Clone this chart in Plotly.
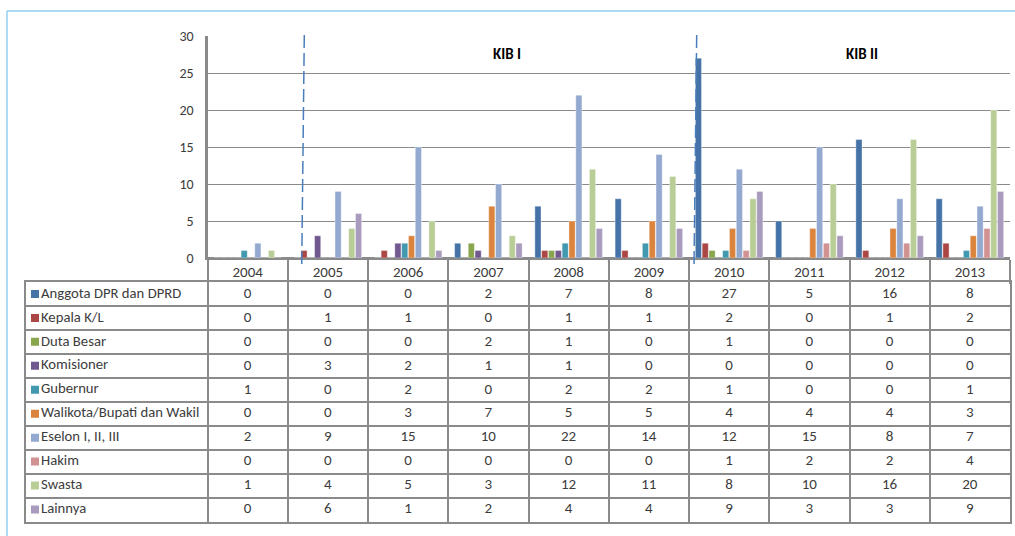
import plotly.graph_objects as go

# Jumlah perkara per jabatan, 2004-2013
years = ["2004", "2005", "2006", "2007", "2008", "2009", "2010", "2011", "2012", "2013"]

anggota_dpr = [0, 0, 0, 2, 7, 8, 27, 5, 16, 8]
kepala_kl = [0, 1, 1, 0, 1, 1, 2, 0, 1, 2]
duta_besar = [0, 0, 0, 2, 1, 0, 1, 0, 0, 0]
komisioner = [0, 3, 2, 1, 1, 0, 0, 0, 0, 0]
gubernur = [1, 0, 2, 0, 2, 2, 1, 0, 0, 1]
walikota = [0, 0, 3, 7, 5, 5, 4, 4, 4, 3]
eselon = [2, 9, 15, 10, 22, 14, 12, 15, 8, 7]
hakim = [0, 0, 0, 0, 0, 0, 1, 2, 2, 4]
swasta = [1, 4, 5, 3, 12, 11, 8, 10, 16, 20]
lainnya = [0, 6, 1, 2, 4, 4, 9, 3, 3, 9]

series_names = ["Anggota DPR dan DPRD", "Kepala K/L", "Duta Besar", "Komisioner", "Gubernur",
                "Walikota/Bupati dan Wakil", "Eselon I, II, III", "Hakim", "Swasta", "Lainnya"]
series_values = [anggota_dpr, kepala_kl, duta_besar, komisioner, gubernur,
                 walikota, eselon, hakim, swasta, lainnya]
colors = ["#4572A7", "#AA4643", "#89A54E", "#71588F", "#4198AF",
          "#DB843D", "#93A9CF", "#D19392", "#B9CD96", "#A99BBD"]

W, H = 1015, 536
FONT = "Calibri, Carlito, Lato, sans-serif"
TXT = "#3c3c3c"
GRID = "#8a8a8a"

# plot area / table geometry in pixels
px_left, px_right = 207.5, 1010
py_top, py_zero = 36, 258
tab_left, tab_top, tab_bottom = 26, 282, 521.5
cat_w = (px_right - px_left) / len(years)
n_rows = len(series_names)

fig = go.Figure()

# grouped bars
for name, vals, col in zip(series_names, series_values, colors):
    fig.add_trace(go.Bar(
        x=years, y=vals, name=name,
        marker=dict(color=col, line=dict(width=0.8, color="rgba(255,255,255,0.45)")),
        showlegend=False, hoverinfo="x+y+name", xaxis="x", yaxis="y",
    ))

# data table drawn on its own axes: year i spans [i, i+1], row r spans [r, r+1]
label_x0 = -(px_left - tab_left) / cat_w
cell_x, cell_y, cell_t = [], [], []
for r, vals in enumerate(series_values):
    for i, v in enumerate(vals):
        cell_x.append(i + 0.5)
        cell_y.append(r + 0.5)
        cell_t.append(str(v))
fig.add_trace(go.Scatter(
    x=cell_x, y=cell_y, text=cell_t, mode="text", textposition="middle center",
    textfont=dict(family=FONT, size=15, color=TXT), showlegend=False, hoverinfo="skip",
    xaxis="x2", yaxis="y2",
))
row_y = [r + 0.5 for r in range(n_rows)]
fig.add_trace(go.Scatter(
    x=[label_x0 + 9 / cat_w] * n_rows, y=row_y, mode="markers",
    marker=dict(symbol="square", size=8, color=colors, line=dict(width=0)),
    showlegend=False, hoverinfo="skip", xaxis="x2", yaxis="y2",
))
fig.add_trace(go.Scatter(
    x=[label_x0 + 15 / cat_w] * n_rows, y=row_y, text=series_names, mode="text",
    textposition="middle right", textfont=dict(family=FONT, size=14.7, color=TXT),
    showlegend=False, hoverinfo="skip", xaxis="x2", yaxis="y2",
))

# era separators (KIB I / KIB II)
def xcat(px):
    return (px - px_left) / cat_w - 0.5

for xt, xb in [(304.3, 301.7), (696.7, 694.0)]:
    fig.add_shape(type="line", xref="x", yref="paper",
                  x0=xcat(xt), x1=xcat(xb), y0=1 - 35 / H, y1=1 - 268 / H,
                  line=dict(color="#4a7ebb", width=1.5, dash="13px,5px"))

for text, px in [("KIB I", 507), ("KIB II", 862)]:
    fig.add_annotation(x=xcat(px), y=(py_zero - 54) / (py_zero - py_top) * 30, xref="x", yref="y",
                       text=f"<b>{text}</b>", showarrow=False, yanchor="middle",
                       font=dict(family=FONT, size=15, color="#000000"))

# outer frame
fig.add_shape(type="line", xref="paper", yref="paper", x0=7 / W, x1=1, y0=1 - 11 / H, y1=1 - 11 / H,
              line=dict(color="#8fd0f0", width=1.5))
fig.add_shape(type="line", xref="paper", yref="paper", x0=7 / W, x1=7 / W, y0=1 - 11 / H, y1=0,
              line=dict(color="#8fd0f0", width=1.5))

fig.update_layout(
    width=W, height=H, margin=dict(l=0, r=0, t=0, b=0),
    paper_bgcolor="white", plot_bgcolor="white",
    barmode="group", bargap=0.15, bargroupgap=0.1,
    font=dict(family=FONT, size=14, color=TXT),
    xaxis=dict(domain=[px_left / W, px_right / W], type="category", automargin=False,
               showgrid=False, showline=True, linecolor=GRID, linewidth=2,
               ticks="outside", tickson="boundaries", ticklen=24, tickwidth=2, tickcolor=GRID,
               ticklabelstandoff=-1, tickfont=dict(family=FONT, size=15, color=TXT)),
    yaxis=dict(domain=[1 - py_zero / H, 1 - py_top / H], range=[0, 30], dtick=5, automargin=False,
               showgrid=True, gridcolor=GRID, gridwidth=1.3,
               showline=True, linecolor=GRID, linewidth=3,
               zeroline=True, zerolinecolor=GRID, zerolinewidth=2,
               ticks="", ticklabelstandoff=8, tickfont=dict(family=FONT, size=14, color=TXT)),
    xaxis2=dict(domain=[tab_left / W, px_right / W], range=[label_x0, len(years)],
                anchor="y2", automargin=False, zeroline=False, showticklabels=False, ticks="",
                tickmode="array", tickvals=list(range(len(years))),
                showgrid=True, gridcolor=GRID, gridwidth=2,
                showline=True, mirror=True, linecolor=GRID, linewidth=2, fixedrange=True),
    yaxis2=dict(domain=[1 - tab_bottom / H, 1 - tab_top / H], range=[n_rows, 0],
                anchor="x2", automargin=False, zeroline=False, showticklabels=False, ticks="",
                tickmode="array", tickvals=list(range(1, n_rows)),
                showgrid=True, gridcolor=GRID, gridwidth=2,
                showline=True, mirror=True, linecolor=GRID, linewidth=2, fixedrange=True),
)

fig.write_html("out.html")
